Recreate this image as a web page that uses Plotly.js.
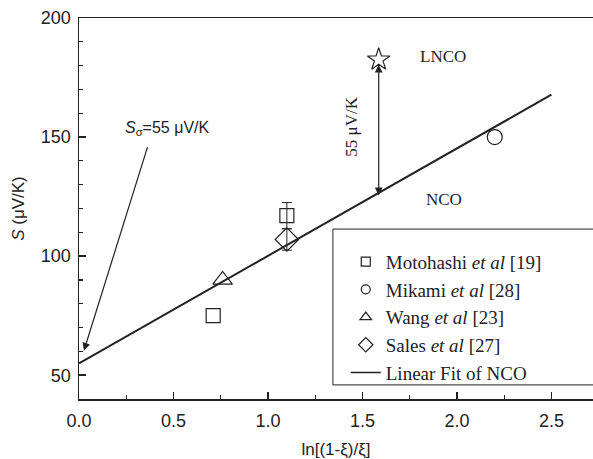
<!DOCTYPE html>
<html>
<head>
<meta charset="utf-8">
<script src="https://cdn.plot.ly/plotly-3.0.1.min.js"></script>
<style>html,body{margin:0;padding:0;background:#fff;}#chart{width:593px;height:459px;}</style>
</head>
<body>
<div id="chart"></div>
<script>
// Data
const motohashiX = [0.71, 1.10];
const motohashiY = [75, 117];
const motohashiErr = [0, 5.5];
const mikamiX = [2.20];
const mikamiY = [150];
const wangX = [0.76];
const wangY = [90];
const salesX = [1.10];
const salesY = [107];
const salesErr = [4.5];
const fitX = [0, 2.5];
const fitY = [55, 167.8];
const lncoX = [1.586];
const lncoY = [182.5];
const seriesNames = ['Motohashi <i>et al</i> [19]', 'Mikami <i>et al</i> [28]', 'Wang <i>et al</i> [23]', 'Sales <i>et al</i> [27]', 'Linear Fit of NCO'];

const serif = 'Times New Roman, Liberation Serif, serif';
const sans = 'Arial, Liberation Sans, sans-serif';
const ink = '#222';

const mk = (sym, size) => ({symbol: sym, size: size, color: ink, line: {color: ink, width: 1.2}});

const traces = [];
// Motohashi points: only those with a non-zero error get an error bar
motohashiX.forEach((xv, i) => {
  const t = {x: [xv], y: [motohashiY[i]], type: 'scatter', mode: 'markers', name: seriesNames[0], showlegend: false,
    marker: mk('square-open', 14)};
  if (motohashiErr[i] > 0) t.error_y = {type: 'data', array: [motohashiErr[i]], color: ink, thickness: 1, width: 5};
  traces.push(t);
});
traces.push(
  {x: mikamiX, y: mikamiY, type: 'scatter', mode: 'markers', name: seriesNames[1], showlegend: false,
   marker: mk('circle-open', 15)},
  {x: wangX, y: wangY, type: 'scatter', mode: 'markers', name: seriesNames[2], showlegend: false,
   marker: mk('triangle-up-open', 17)},
  {x: salesX, y: salesY, type: 'scatter', mode: 'markers', name: seriesNames[3], showlegend: false,
   marker: mk('diamond-open', 18),
   error_y: {type: 'data', array: salesErr, color: ink, thickness: 1, width: 5}},
  {x: fitX, y: fitY, type: 'scatter', mode: 'lines', name: seriesNames[4], showlegend: false,
   line: {color: ink, width: 2}},
  {x: lncoX, y: lncoY, type: 'scatter', mode: 'markers', name: 'LNCO', showlegend: false,
   marker: mk('star-open', 17)}
);
// legend-only entries (small symbols, as in the reference legend)
const legendSyms = [['square-open', 9], ['circle-open', 9], ['triangle-up-open', 10], ['diamond-open', 11]];
legendSyms.forEach((s, i) => {
  traces.push({x: [null], y: [null], type: 'scatter', mode: 'markers', name: seriesNames[i],
    legendgroup: 'g' + i, showlegend: true, marker: mk(s[0], s[1])});
});
traces.push({x: [null], y: [null], type: 'scatter', mode: 'lines', name: seriesNames[4],
  legendgroup: 'g4', showlegend: true, line: {color: ink, width: 1.5}});

const layout = {
  width: 593, height: 459,
  margin: {l: 79, r: 0, t: 18, b: 60},
  paper_bgcolor: '#fff', plot_bgcolor: '#fff',
  showlegend: true,
  legend: {
    x: 0.519, y: 0.41, xanchor: 'left', yanchor: 'top',
    bgcolor: 'rgba(0,0,0,0)', borderwidth: 0,
    font: {family: serif, size: 19, color: ink},
    itemsizing: 'trace', tracegroupgap: 4, traceorder: 'normal'
  },
  xaxis: {
    range: [0, 2.72], showgrid: false, zeroline: false,
    showline: true, linecolor: ink, linewidth: 1.5, mirror: true,
    ticks: 'inside', ticklen: 7, tickwidth: 1.5, tickcolor: ink,
    tick0: 0, dtick: 0.5, tickformat: '.1f', ticklabelstandoff: 5,
    minor: {dtick: 0.25, ticks: 'inside', ticklen: 4, tickwidth: 1.2, tickcolor: ink},
    tickfont: {family: sans, size: 18, color: ink},
    title: {text: 'ln[(1-ξ)/ξ]', font: {family: sans, size: 17, color: ink}, standoff: 19}
  },
  yaxis: {
    range: [40, 200], showgrid: false, zeroline: false,
    showline: true, linecolor: ink, linewidth: 1.5, mirror: false,
    ticks: 'inside', ticklen: 7, tickwidth: 1.5, tickcolor: ink,
    tick0: 0, dtick: 50, ticklabelstandoff: 3,
    minor: {dtick: 10, ticks: 'inside', ticklen: 4, tickwidth: 1.2, tickcolor: ink},
    tickfont: {family: sans, size: 18, color: ink},
    title: {text: '<i>S</i> (μV/K)', font: {family: sans, size: 17, color: ink}, standoff: 12}
  },
  shapes: [
    {type: 'rect', xref: 'paper', yref: 'paper', x0: 0.494, x1: 1.05, y0: 0.037, y1: 0.446,
     line: {color: ink, width: 1}, fillcolor: 'rgba(0,0,0,0)'}
  ],
  annotations: [
    {x: 1.586, y: 125.5, ax: 1.586, ay: 181, axref: 'x', ayref: 'y', xref: 'x', yref: 'y',
     text: '', showarrow: true, arrowside: 'end+start', arrowhead: 2, startarrowhead: 2,
     arrowsize: 1.3, startarrowsize: 1.3, arrowwidth: 1.2, arrowcolor: ink},
    {x: 0.026, y: 60.3, ax: 0.365, ay: 146.4, axref: 'x', ayref: 'y', xref: 'x', yref: 'y',
     text: '', showarrow: true, arrowhead: 2, arrowsize: 1.3, arrowwidth: 1.2, arrowcolor: ink},
    {x: 0.47, y: 153.5, xref: 'x', yref: 'y', showarrow: false,
     text: '<i>S</i><sub>σ</sub>=55 μV/K', font: {family: sans, size: 16, color: ink}},
    {x: 1.44, y: 154.4, xref: 'x', yref: 'y', showarrow: false, textangle: -90,
     text: '55 μV/K', font: {family: serif, size: 17, color: ink}},
    {x: 1.924, y: 183.7, xref: 'x', yref: 'y', showarrow: false,
     text: 'LNCO', font: {family: serif, size: 17, color: ink}},
    {x: 1.934, y: 123.8, xref: 'x', yref: 'y', showarrow: false,
     text: 'NCO', font: {family: serif, size: 17, color: ink}}
  ]
};

Plotly.newPlot('chart', traces, layout, {displayModeBar: false, staticPlot: true});
</script>
</body>
</html>
